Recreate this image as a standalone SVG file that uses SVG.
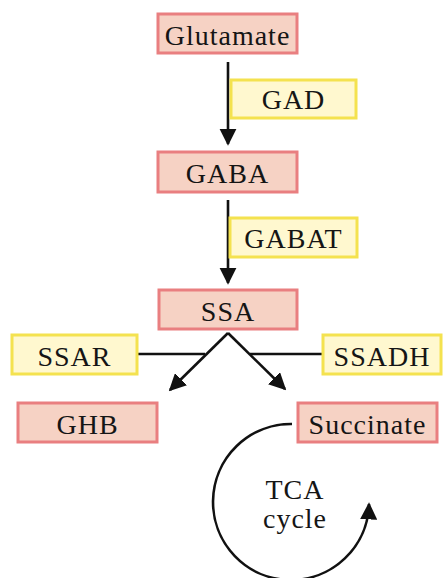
<svg xmlns="http://www.w3.org/2000/svg" width="443" height="578" viewBox="0 0 443 578">
<defs>
<style>
.met rect{fill:#f6d2c4;stroke:#e97f80;stroke-width:3}
.enz rect{fill:#fff8cf;stroke:#f4e24f;stroke-width:3}
text{font-family:"Liberation Serif","Times New Roman",serif;font-size:28px;fill:#151515;text-anchor:middle;letter-spacing:1px}
.ln{stroke:#111;stroke-width:2.6;fill:none}
</style>
<marker id="ah" viewBox="0 0 10 10" refX="9" refY="5" markerWidth="6.6" markerHeight="6.6" orient="auto" markerUnits="strokeWidth">
<path d="M0,0 L10,5 L0,10 z" fill="#111"/>
</marker>
</defs>
<g id="connectors">
<line class="ln" x1="228" y1="62" x2="228" y2="144" marker-end="url(#ah)"/>
<line class="ln" x1="228" y1="200" x2="228" y2="283" marker-end="url(#ah)"/>
<line class="ln" x1="137" y1="354" x2="205" y2="354"/>
<line class="ln" x1="250" y1="354" x2="323" y2="354"/>
<path class="ln" d="M228,333 L170,390" marker-end="url(#ah)"/>
<path class="ln" d="M228,333 L285,389" marker-end="url(#ah)"/>
<path class="ln" d="M 292 424 A 78 78 0 1 0 369 504" marker-end="url(#ah)"/>
</g>
<g id="glutamate" class="met"><rect x="158" y="14" width="139" height="39"/><text x="227.5" y="45">Glutamate</text></g>
<g id="gad" class="enz"><rect x="231" y="80" width="125" height="38"/><text x="293.5" y="109">GAD</text></g>
<g id="gaba" class="met"><rect x="158" y="152" width="139" height="40"/><text x="227.5" y="183">GABA</text></g>
<g id="gabat" class="enz"><rect x="230" y="218" width="127" height="39"/><text x="293.5" y="248">GABAT</text></g>
<g id="ssa" class="met"><rect x="159" y="290" width="138" height="39"/><text x="228" y="321">SSA</text></g>
<g id="ssar" class="enz"><rect x="12" y="335" width="125" height="39"/><text x="74.5" y="366">SSAR</text></g>
<g id="ssadh" class="enz"><rect x="323" y="335" width="118" height="39"/><text x="382" y="366">SSADH</text></g>
<g id="ghb" class="met"><rect x="18" y="403" width="139" height="39"/><text x="87.5" y="434">GHB</text></g>
<g id="succinate" class="met"><rect x="298" y="403" width="139" height="39"/><text x="367.5" y="434">Succinate</text></g>
<g id="tca"><text x="295" y="499">TCA</text><text x="295" y="528">cycle</text></g>
</svg>
